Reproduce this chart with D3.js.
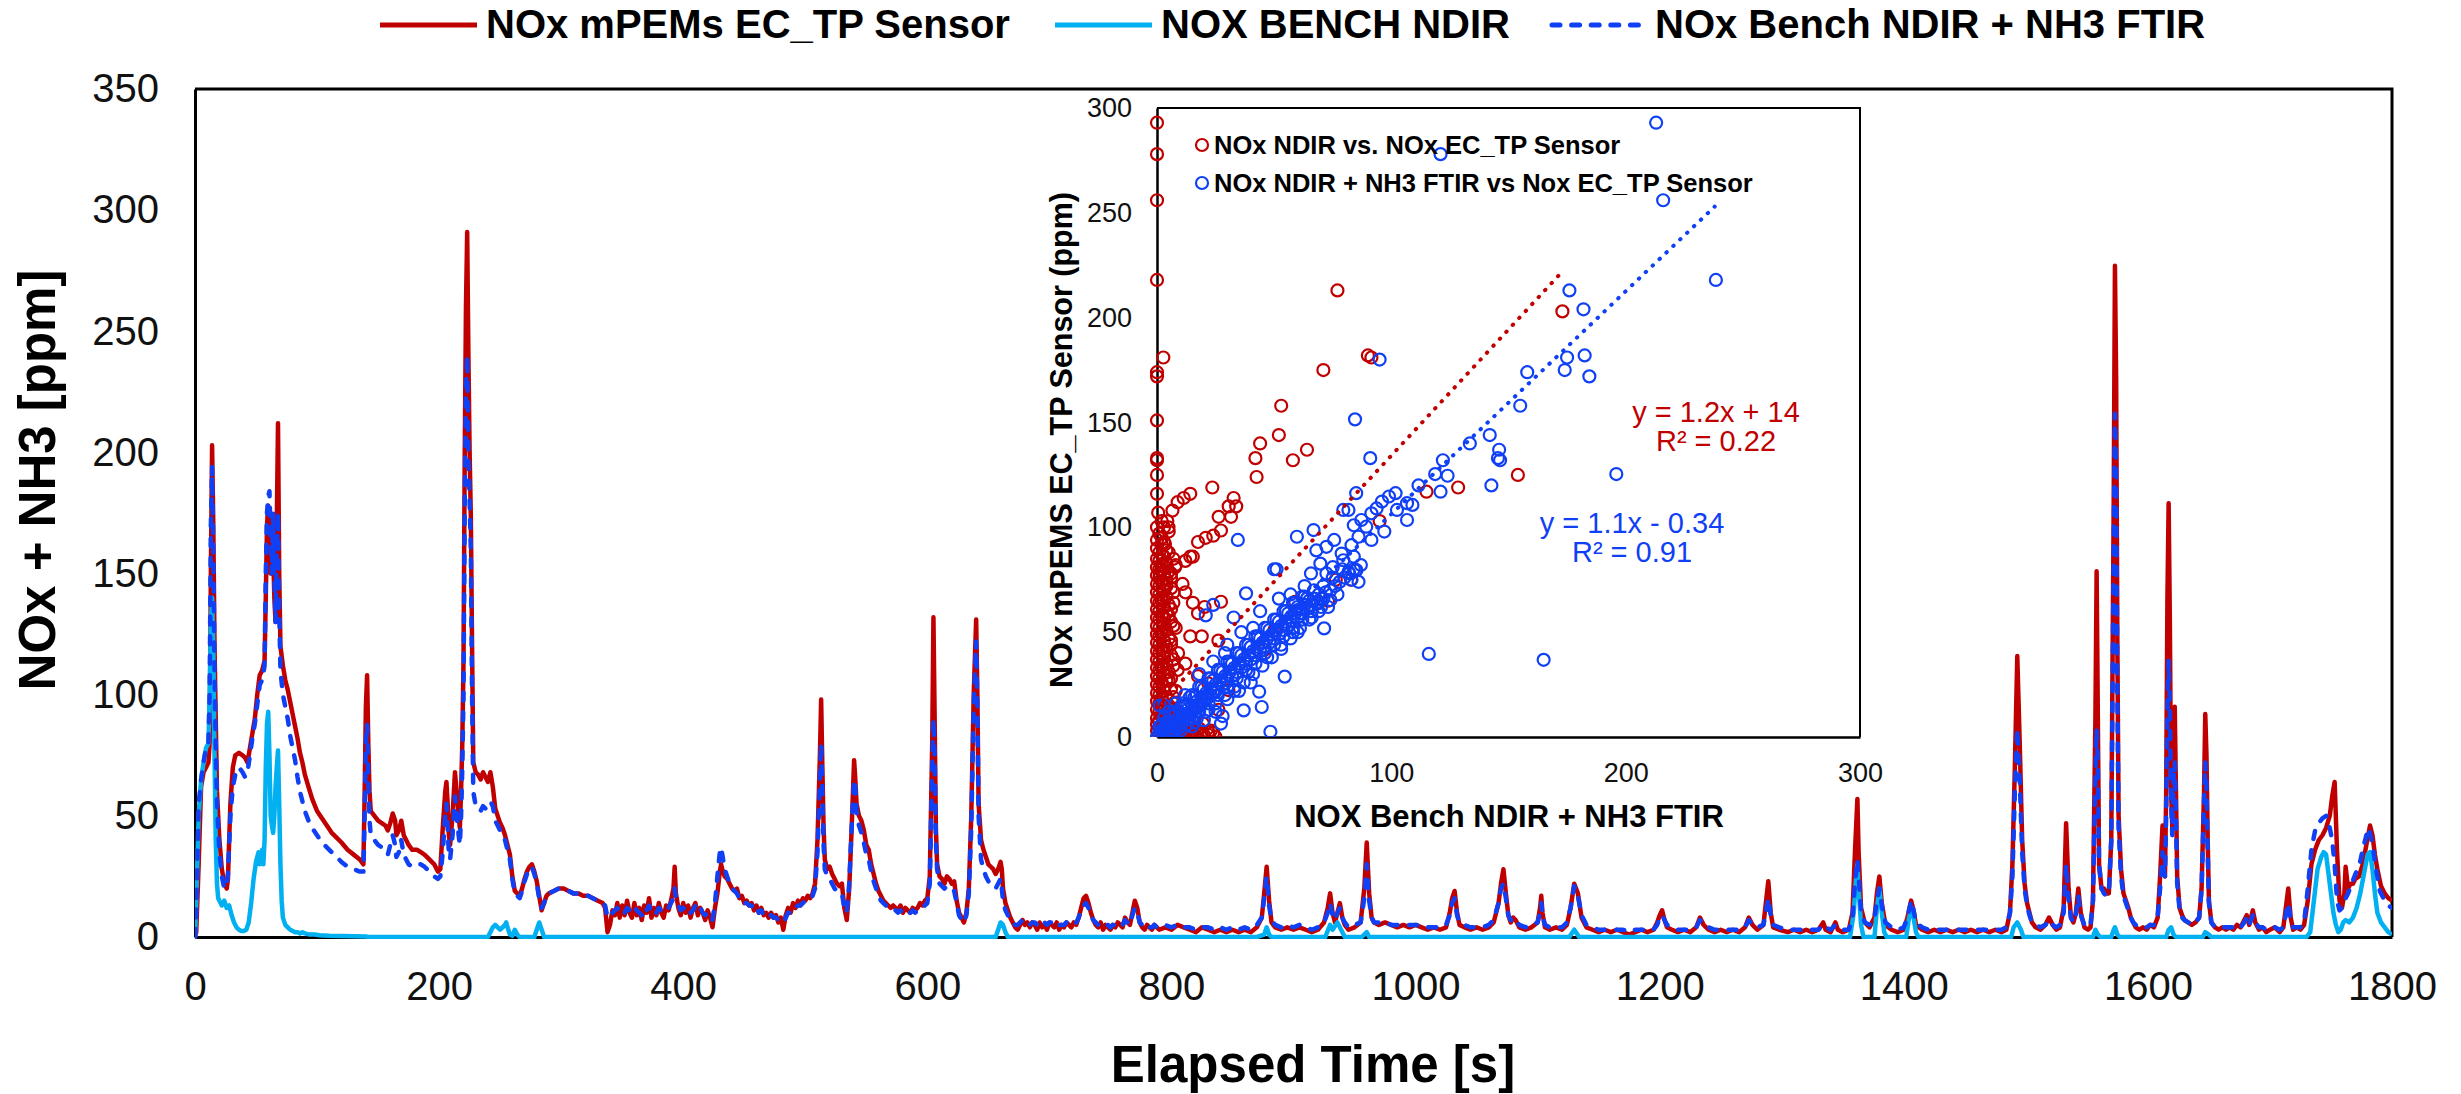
<!DOCTYPE html>
<html>
<head>
<meta charset="utf-8">
<script src="https://cdn.jsdelivr.net/npm/d3@7"></script>
<style>
  body { margin: 0; background: #fff; }
  svg { display: block; }
</style>
</head>
<body>
<div id="container"></div>
<script>
// ---------- data ----------
const timeTicks = [0, 200, 400, 600, 800, 1000, 1200, 1400, 1600, 1800];
const ppmTicks = [0, 50, 100, 150, 200, 250, 300, 350];
const insetTicks = [0, 50, 100, 150, 200, 250, 300];
const insetXTicks = [0, 100, 200, 300];

const seriesNames = ["NOx mPEMs EC_TP Sensor", "NOX BENCH NDIR", "NOx Bench NDIR + NH3 FTIR"];
const scatterNames = ["NOx NDIR vs. NOx EC_TP Sensor", "NOx NDIR + NH3 FTIR vs Nox EC_TP Sensor"];
const fitLabels = [["y = 1.2x + 14", "R\u00b2 = 0.22"], ["y = 1.1x - 0.34", "R\u00b2 = 0.91"]];

// [elapsed s, ppm]
const sensorNOx = [[0,0],[1,2],[3,30],[5,62],[7,68],[9,70],[11,72],[12,80],[13,150],[14,203],[15,170],[16,120],[17,90],[18,60],[20,40],[22,28],[24,22],[26,20],[27,24],[28,40],[29,55],[31,70],[33,75],[36,76],[39,75],[41,74],[43,72],[45,78],[47,84],[49,90],[51,100],[53,108],[55,110],[57,114],[58,140],[59,170],[60,178],[61,160],[62,150],[63,172],[64,160],[65,140],[66,130],[67,170],[68,212],[69,150],[70,120],[72,112],[74,106],[76,102],[78,97],[80,92],[82,87],[84,82],[86,76],[88,72],[90,67],[93,62],[96,57],[100,52],[104,49],[108,46],[112,43],[116,41],[120,39],[125,36],[130,34],[135,32],[138,30],[139,60],[140,95],[141,108],[142,80],[143,60],[144,52],[147,50],[150,48],[153,47],[156,46],[158,44],[160,47],[162,51],[164,48],[165,42],[167,44],[169,48],[171,42],[173,40],[175,38],[178,36],[182,36],[185,35],[188,34],[192,32],[196,30],[199,27],[201,28],[203,45],[205,60],[206,64],[207,55],[208,42],[209,38],[211,50],[213,68],[214,62],[216,50],[217,45],[218,60],[219,80],[220,114],[221,200],[222,260],[223,291],[224,240],[225,200],[226,173],[227,120],[228,72],[230,68],[232,67],[234,65],[236,68],[238,66],[240,64],[242,68],[244,62],[246,53],[248,50],[250,47],[252,45],[254,42],[256,38],[258,34],[260,25],[262,19],[264,18],[266,17],[268,20],[270,24],[272,27],[274,29],[276,30],[278,27],[280,23],[282,17],[284,11],[286,14],[288,17],[290,18],[294,19],[298,20],[302,20],[306,19],[310,18],[314,18],[318,17],[322,17],[326,16],[330,15],[334,14],[336,12],[338,2],[340,5],[342,11],[344,9],[346,14],[348,8],[350,13],[352,9],[354,15],[356,10],[358,8],[360,14],[362,9],[364,12],[366,7],[368,13],[370,10],[372,16],[374,8],[376,12],[378,9],[380,14],[382,10],[384,8],[386,13],[388,11],[390,15],[392,20],[393,29],[394,18],[396,12],[398,9],[400,14],[402,10],[404,13],[406,8],[408,12],[410,14],[412,9],[414,12],[416,10],[418,7],[420,11],[422,8],[424,4],[426,12],[428,18],[430,27],[431,30],[432,28],[434,25],[436,24],[438,22],[440,20],[442,19],[444,20],[446,16],[448,17],[450,14],[452,15],[454,13],[456,14],[458,11],[460,13],[462,10],[464,12],[466,9],[468,10],[470,8],[472,10],[474,8],[476,9],[478,6],[480,8],[482,3],[484,9],[486,12],[488,10],[490,14],[492,12],[494,15],[496,13],[498,16],[500,15],[502,17],[504,16],[506,18],[508,22],[510,40],[512,75],[513,98],[514,70],[515,45],[516,32],[518,28],[520,29],[522,26],[524,24],[526,22],[528,21],[530,22],[532,12],[534,7],[536,20],[538,45],[540,73],[541,65],[542,55],[544,50],[546,48],[548,44],[550,38],[552,36],[554,30],[556,26],[558,22],[560,19],[562,17],[564,15],[566,14],[568,13],[570,12],[572,13],[574,12],[576,11],[578,13],[580,10],[582,12],[584,11],[586,10],[588,12],[590,11],[592,12],[594,14],[596,13],[598,15],[600,16],[602,25],[604,80],[605,132],[606,90],[607,45],[608,30],[610,25],[612,24],[614,22],[616,25],[618,24],[620,22],[622,23],[624,15],[626,10],[628,8],[630,6],[632,10],[634,20],[636,50],[638,100],[640,131],[641,100],[642,55],[644,40],[646,36],[648,33],[650,30],[652,29],[654,28],[656,26],[658,28],[660,31],[661,28],[662,20],[664,14],[666,11],[668,8],[670,6],[672,4],[674,3],[676,5],[678,7],[680,5],[682,6],[684,4],[686,6],[688,5],[690,3],[692,6],[694,4],[696,5],[698,3],[700,6],[702,5],[704,4],[706,6],[708,3],[710,5],[712,4],[714,6],[716,5],[718,4],[720,6],[722,5],[724,8],[726,12],[728,16],[730,17],[732,14],[734,10],[736,7],[738,5],[740,4],[742,6],[744,3],[746,5],[748,4],[750,3],[752,5],[754,4],[756,6],[758,5],[760,4],[762,8],[764,6],[766,5],[768,10],[770,15],[772,12],[774,6],[776,4],[778,3],[780,5],[782,4],[784,3],[786,5],[788,4],[790,3],[795,4],[800,3],[805,5],[810,4],[815,3],[820,2],[825,4],[830,3],[835,2],[840,3],[845,2],[850,3],[855,2],[860,3],[865,2],[870,4],[874,8],[876,18],[878,29],[880,15],[882,6],[885,4],[890,3],[895,4],[900,3],[905,4],[910,3],[915,2],[920,3],[925,6],[928,12],[930,18],[932,10],[934,6],[936,10],[938,14],[940,8],[942,5],[945,3],[950,4],[955,6],[958,20],[960,39],[962,18],[964,8],[966,6],[970,5],[975,6],[980,5],[985,4],[990,5],[995,4],[1000,5],[1005,4],[1010,3],[1015,4],[1020,3],[1025,4],[1028,10],[1030,16],[1032,19],[1034,10],[1036,5],[1040,4],[1045,3],[1050,4],[1055,3],[1060,4],[1064,6],[1068,14],[1070,22],[1072,28],[1074,18],[1076,9],[1078,6],[1080,8],[1082,7],[1085,4],[1090,3],[1095,4],[1100,6],[1102,12],[1103,17],[1104,10],[1106,4],[1110,3],[1115,4],[1120,3],[1124,5],[1127,12],[1130,22],[1133,18],[1136,8],[1140,4],[1145,3],[1150,2],[1155,3],[1160,2],[1165,3],[1170,2],[1175,1],[1180,2],[1185,3],[1190,2],[1195,3],[1198,6],[1200,9],[1202,11],[1204,7],[1206,4],[1210,3],[1215,2],[1220,3],[1225,2],[1230,4],[1233,8],[1236,5],[1240,3],[1245,2],[1250,3],[1255,2],[1260,3],[1265,2],[1270,4],[1273,8],[1276,5],[1280,3],[1285,5],[1287,14],[1289,23],[1291,10],[1293,4],[1298,3],[1305,2],[1310,3],[1315,2],[1320,3],[1325,2],[1330,3],[1334,6],[1336,3],[1340,2],[1344,6],[1346,3],[1350,2],[1355,3],[1358,10],[1360,35],[1362,57],[1363,35],[1365,12],[1368,6],[1372,4],[1376,8],[1378,18],[1380,25],[1382,14],[1385,5],[1390,3],[1395,2],[1400,3],[1403,8],[1406,15],[1408,11],[1410,5],[1415,3],[1420,2],[1425,3],[1430,2],[1435,3],[1440,2],[1445,3],[1450,2],[1455,3],[1460,2],[1465,3],[1470,2],[1475,3],[1480,2],[1484,3],[1487,10],[1489,30],[1491,70],[1493,116],[1495,80],[1497,40],[1499,22],[1501,14],[1503,10],[1505,6],[1508,4],[1512,3],[1516,5],[1519,8],[1522,5],[1525,3],[1528,4],[1531,12],[1533,47],[1535,20],[1537,8],[1539,6],[1541,10],[1543,20],[1545,10],[1548,4],[1551,3],[1553,4],[1555,15],[1557,90],[1558,151],[1559,90],[1560,30],[1562,20],[1564,20],[1566,18],[1568,18],[1570,40],[1572,180],[1573,277],[1574,230],[1575,120],[1576,50],[1578,28],[1580,18],[1582,15],[1584,12],[1586,8],[1588,6],[1590,4],[1593,3],[1596,4],[1599,3],[1602,5],[1605,4],[1608,8],[1610,25],[1612,46],[1613,30],[1614,25],[1615,60],[1616,140],[1617,179],[1618,130],[1619,60],[1620,45],[1621,80],[1622,95],[1623,60],[1624,25],[1626,12],[1628,9],[1630,7],[1633,6],[1636,5],[1639,6],[1642,8],[1644,20],[1646,60],[1647,92],[1648,75],[1649,40],[1650,15],[1652,6],[1655,4],[1658,3],[1661,4],[1664,3],[1667,4],[1670,3],[1673,5],[1676,4],[1679,7],[1681,9],[1683,5],[1686,11],[1688,6],[1691,3],[1694,4],[1697,2],[1700,3],[1704,4],[1708,2],[1711,4],[1713,12],[1715,20],[1717,8],[1719,3],[1722,4],[1725,3],[1728,5],[1731,15],[1734,30],[1737,36],[1740,40],[1743,42],[1746,45],[1749,50],[1751,58],[1753,64],[1755,35],[1757,15],[1759,12],[1761,18],[1762,29],[1764,20],[1766,22],[1768,22],[1770,24],[1773,25],[1776,30],[1779,38],[1782,46],[1784,42],[1786,34],[1788,28],[1791,21],[1794,18],[1797,16],[1800,15]];

const benchNDIR = [[0,0],[1,15],[3,50],[5,65],[7,72],[9,78],[11,80],[12,100],[13,130],[14,140],[15,120],[16,75],[17,40],[18,22],[19,16],[20,15],[22,13],[24,15],[26,12],[28,13],[30,9],[32,6],[34,4],[36,3],[38,2.5],[40,2.5],[42,3],[44,6],[46,14],[48,24],[50,31],[52,35],[53,30],[54,33],[55,36],[56,30],[57,40],[58,70],[59,88],[60,93],[61,75],[62,50],[63,46],[64,43],[65,50],[66,62],[67,70],[68,77],[69,55],[70,30],[71,15],[72,8],[74,5],[76,4],[78,3],[80,2.5],[82,2],[84,2],[86,1.5],[88,2],[90,1.5],[94,1],[98,1],[102,0.7],[110,0.5],[120,0.4],[130,0.3],[140,0.2],[142,0],[240,0],[242,2],[244,4],[246,5],[248,4],[250,3],[252,4],[254,5],[255,6],[256,4],[258,1],[260,0.5],[262,3],[264,1],[266,0],[278,0],[280,3],[282,6],[284,3],[286,0],[656,0],[658,3],[660,6],[662,5],[664,2],[666,0],[870,0],[876,1],[878,4],[880,1],[882,0],[926,0],[930,5],[932,3],[936,6],[938,4],[942,0],[956,0],[960,2],[962,0],[1126,0],[1130,3],[1134,0],[1356,0],[1359,10],[1361,25],[1362,30],[1363,20],[1365,5],[1367,0],[1376,0],[1378,12],[1380,20],[1382,10],[1384,2],[1386,0],[1402,0],[1404,7],[1406,12],[1408,8],[1410,2],[1412,0],[1488,0],[1490,4],[1493,6],[1496,3],[1498,0],[1555,0],[1557,3],[1559,1],[1561,0],[1570,0],[1572,3],[1573,4],[1575,1],[1577,0],[1615,0],[1617,3],[1619,4],[1621,1],[1623,0],[1645,0],[1647,2],[1650,1],[1652,0],[1730,0],[1733,2],[1736,15],[1739,28],[1742,33],[1744,35],[1746,34],[1748,26],[1750,18],[1752,10],[1754,5],[1756,2],[1758,3],[1760,6],[1762,7],[1765,6],[1768,8],[1771,12],[1774,18],[1777,26],[1780,34],[1782,35],[1784,28],[1786,18],[1788,10],[1791,6],[1794,4],[1797,2],[1800,1]];

const benchNDIRplusNH3 = [[0,0],[1,10],[3,55],[5,65],[7,72],[9,78],[11,80],[12,100],[13,170],[14,194],[15,160],[16,110],[17,80],[18,55],[20,35],[22,25],[24,20],[26,22],[27,26],[28,38],[29,50],[31,62],[33,67],[36,70],[39,68],[41,66],[43,68],[45,75],[47,82],[49,88],[51,96],[53,104],[55,106],[57,112],[58,150],[59,175],[60,182],[61,184],[62,165],[63,150],[64,175],[65,150],[66,130],[67,160],[68,175],[69,135],[70,110],[72,100],[74,95],[76,90],[78,83],[80,78],[82,73],[84,66],[86,60],[88,56],[90,52],[93,48],[96,45],[100,42],[104,39],[108,37],[112,35],[116,33],[120,31],[125,29],[130,28],[135,27],[138,27],[139,50],[140,80],[141,88],[142,65],[143,48],[144,42],[147,40],[150,38],[153,37],[156,36],[158,34],[160,38],[162,42],[164,38],[165,33],[167,35],[169,40],[171,34],[173,32],[175,30],[178,29],[182,30],[185,30],[188,29],[192,27],[196,25],[199,24],[201,25],[203,35],[205,50],[206,55],[207,45],[208,34],[209,32],[211,42],[213,58],[214,52],[216,42],[217,38],[218,50],[219,70],[220,100],[221,180],[222,225],[223,240],[224,200],[225,180],[226,160],[227,100],[228,60],[230,54],[232,53],[234,52],[236,54],[238,53],[240,55],[242,56],[244,54],[246,48],[248,46],[250,44],[252,42],[254,40],[256,36],[258,32],[260,24],[262,18],[264,17],[266,16],[268,19],[270,23],[272,26],[274,28],[276,29],[278,26],[280,22],[282,16],[284,12],[286,14],[288,17],[290,18],[294,19],[298,20],[302,20],[306,19],[310,18],[314,18],[318,17],[322,17],[326,16],[330,15],[334,14],[336,13],[338,8],[340,9],[342,10],[344,11],[346,12],[348,10],[350,11],[352,10],[354,12],[356,11],[358,10],[360,12],[362,11],[364,10],[366,9],[368,12],[370,11],[372,13],[374,10],[376,11],[378,10],[380,12],[382,11],[384,10],[386,11],[388,12],[390,14],[392,16],[393,20],[394,16],[396,13],[398,11],[400,12],[402,11],[404,12],[406,10],[408,11],[410,13],[412,11],[414,12],[416,10],[418,9],[420,10],[422,9],[424,7],[426,14],[428,25],[430,35],[431,37],[432,34],[434,28],[436,25],[438,22],[440,20],[442,19],[444,18],[446,16],[448,16],[450,14],[452,14],[454,13],[456,13],[458,11],[460,12],[462,10],[464,11],[466,9],[468,9],[470,8],[472,9],[474,8],[476,8],[478,7],[480,7],[482,6],[484,8],[486,10],[488,10],[490,12],[492,12],[494,13],[496,13],[498,14],[500,15],[502,16],[504,16],[506,17],[508,20],[510,35],[512,65],[513,80],[514,60],[515,38],[516,28],[518,25],[520,24],[522,22],[524,20],[526,19],[528,18],[530,18],[532,12],[534,10],[536,22],[538,45],[540,65],[541,62],[542,52],[544,46],[546,43],[548,39],[550,34],[552,32],[554,27],[556,23],[558,20],[560,17],[562,15],[564,14],[566,13],[568,12],[570,11],[572,11],[574,11],[576,10],[578,11],[580,10],[582,11],[584,10],[586,10],[588,11],[590,10],[592,11],[594,12],[596,12],[598,13],[600,14],[602,22],[604,70],[605,90],[606,75],[607,40],[608,28],[610,22],[612,21],[614,20],[616,21],[618,20],[620,19],[622,19],[624,14],[626,9],[628,7],[630,6],[632,9],[634,18],[636,45],[638,95],[640,122],[641,95],[642,50],[644,32],[646,28],[648,25],[650,23],[652,22],[654,21],[656,20],[658,22],[660,24],[661,20],[662,15],[664,11],[666,9],[668,7],[670,6],[672,5],[674,5],[676,6],[678,7],[680,6],[682,6],[684,5],[686,6],[688,6],[690,5],[692,6],[694,5],[696,6],[698,5],[700,6],[702,6],[704,5],[706,6],[708,5],[710,5],[712,5],[714,6],[716,5],[718,5],[720,6],[722,6],[724,8],[726,11],[728,13],[730,14],[732,12],[734,9],[736,7],[738,6],[740,5],[742,6],[744,5],[746,5],[748,5],[750,4],[752,5],[754,5],[756,6],[758,5],[760,5],[762,7],[764,6],[766,5],[768,9],[770,12],[772,10],[774,6],[776,5],[778,4],[780,5],[782,4],[784,4],[786,5],[788,4],[790,4],[795,5],[800,4],[805,5],[810,4],[815,4],[820,3],[825,4],[830,4],[835,3],[840,4],[845,3],[850,4],[855,3],[860,4],[865,3],[870,5],[874,8],[876,16],[878,25],[880,13],[882,7],[885,5],[890,4],[895,5],[900,4],[905,5],[910,4],[915,3],[920,4],[925,6],[928,10],[930,14],[932,9],[934,7],[936,10],[938,12],[940,8],[942,6],[945,4],[950,5],[955,6],[958,16],[960,30],[962,15],[964,8],[966,6],[970,6],[975,6],[980,5],[985,5],[990,5],[995,5],[1000,5],[1005,5],[1010,4],[1015,4],[1020,4],[1025,5],[1028,9],[1030,14],[1032,16],[1034,9],[1036,6],[1040,5],[1045,4],[1050,4],[1055,4],[1060,5],[1064,7],[1068,14],[1070,20],[1072,22],[1074,16],[1076,9],[1078,7],[1080,8],[1082,7],[1085,5],[1090,4],[1095,5],[1100,6],[1102,10],[1103,14],[1104,9],[1106,5],[1110,4],[1115,4],[1120,4],[1124,6],[1127,12],[1130,21],[1133,17],[1136,9],[1140,5],[1145,4],[1150,3],[1155,3],[1160,3],[1165,3],[1170,3],[1175,2],[1180,3],[1185,3],[1190,3],[1195,3],[1198,5],[1200,8],[1202,9],[1204,7],[1206,5],[1210,4],[1215,3],[1220,3],[1225,3],[1230,4],[1233,7],[1236,5],[1240,4],[1245,3],[1250,3],[1255,3],[1260,3],[1265,3],[1270,4],[1273,7],[1276,5],[1280,4],[1285,5],[1287,10],[1289,16],[1291,9],[1293,5],[1298,4],[1305,3],[1310,3],[1315,3],[1320,3],[1325,3],[1330,3],[1334,5],[1336,4],[1340,3],[1344,5],[1346,4],[1350,3],[1355,3],[1358,8],[1360,22],[1362,32],[1363,25],[1365,11],[1368,6],[1372,5],[1376,8],[1378,15],[1380,20],[1382,13],[1385,6],[1390,4],[1395,3],[1400,4],[1403,8],[1406,15],[1408,11],[1410,6],[1415,4],[1420,3],[1425,3],[1430,3],[1435,3],[1440,3],[1445,3],[1450,3],[1455,3],[1460,3],[1465,3],[1470,3],[1475,3],[1480,3],[1484,4],[1487,10],[1489,25],[1491,60],[1493,86],[1495,65],[1497,35],[1499,20],[1501,13],[1503,9],[1505,6],[1508,5],[1512,4],[1516,5],[1519,7],[1522,5],[1525,4],[1528,5],[1531,10],[1533,30],[1535,15],[1537,8],[1539,6],[1541,9],[1543,17],[1545,9],[1548,5],[1551,4],[1553,5],[1555,15],[1557,65],[1558,86],[1559,70],[1560,30],[1562,20],[1564,18],[1566,17],[1568,18],[1570,40],[1572,160],[1573,216],[1574,190],[1575,100],[1576,45],[1578,25],[1580,17],[1582,14],[1584,11],[1586,8],[1588,6],[1590,5],[1593,4],[1596,4],[1599,4],[1602,5],[1605,5],[1608,8],[1610,20],[1612,35],[1613,28],[1614,25],[1615,50],[1616,95],[1617,114],[1618,95],[1619,55],[1620,42],[1621,65],[1622,72],[1623,50],[1624,22],[1626,11],[1628,8],[1630,7],[1633,6],[1636,5],[1639,6],[1642,8],[1644,20],[1646,55],[1647,72],[1648,62],[1649,35],[1650,14],[1652,6],[1655,4],[1658,4],[1661,4],[1664,4],[1667,4],[1670,4],[1673,5],[1676,4],[1679,6],[1681,8],[1683,5],[1686,9],[1688,6],[1691,4],[1694,4],[1697,3],[1700,3],[1704,4],[1708,3],[1711,4],[1713,9],[1715,14],[1717,7],[1719,4],[1722,4],[1725,4],[1728,6],[1731,20],[1734,36],[1737,44],[1740,47],[1743,49],[1746,50],[1749,45],[1751,40],[1753,30],[1755,15],[1757,11],[1759,12],[1761,15],[1764,18],[1767,22],[1770,26],[1773,29],[1776,36],[1779,42],[1781,45],[1784,38],[1787,28],[1790,19],[1794,15],[1797,13],[1800,12]];

// inset scatter: [bench ppm, sensor ppm]
const scatterNDIR = [[0,293],[0,278],[0,256],[0,218],[2.7,181],[0,174],[0,172],[0,151],[0,133],[0,132],[0,125],[0,116],[0.5,107],[77,213],[71,175],[53,158],[52,144],[44,140],[42,133],[42.5,124],[58,132],[64,137],[90,182],[91.5,181],[173,203],[154,125],[128.5,119],[115,117],[95,103],[23.6,119],[14.2,116],[11.4,114],[8.8,112],[6.6,108],[4.4,103],[32.7,114],[33.8,110],[30.6,110],[26.3,105],[31.6,105],[27.3,98.5],[24,96],[20.8,95],[17.5,93],[15.3,86],[12.1,84],[7.7,81],[4.9,100],[3.4,92],[2.2,87],[1.2,78],
  [14.2,86],[10.9,73],[12.1,69],[15.3,64],[17.5,59],[27.3,64.5],[20.3,62],[19.1,48],[14.2,48],[26.2,46],[12.1,35],[8.8,32],[17.5,29],[21.9,25.6],[26.2,13],[19.6,6.5],[21.9,2.5],[16.4,9.7],[58.9,64.5],[73,65],[82.8,75],[76.3,75],[45.8,41.5],[30.5,22.4],[50.1,51],
  [0,0],[1,1],[2,0],[3,2],[0,3],[1,4],[4,1],[5,3],[2,5],[0,6],[3,7],[1,8],[6,2],[0,9],[2,10],[4,11],[1,12],[0,13],[3,14],[5,15],[1,16],[0,17],[2,18],[4,19],[1,20],[0,21],[3,22],[6,23],[1,24],[0,25],[2,26],[4,27],[1,28],[0,29],[3,30],[5,31],[1,32],[0,33],[2,34],[4,35],[1,36],[0,37],[3,38],[6,39],[1,40],[0,41],[2,42],[4,43],[1,44],[0,45],[3,46],[5,47],[1,48],[0,49],[2,50],[4,51],[1,52],[0,53],[3,54],[6,55],[1,56],[0,57],[2,58],[4,59],[1,60],[0,61],[3,62],[5,63],[1,64],[0,65],[2,66],[4,67],[1,68],[0,69],[3,70],[6,71],[1,72],[0,73],[2,74],[4,75],[1,76],[0,77],[3,78],[5,79],[1,80],[0,81],[2,82],[4,83],[1,84],[0,85],[3,86],[1,88],[0,90],[2,92],[0,94],[1,97],[0,100],[2,103],
  [7,1],[9,0],[11,2],[13,1],[15,3],[17,0],[19,2],[22,1],[24,2],[8,5],[10,8],[12,4],[14,6],[6,9],[9,12],[7,16],[8,22],[5,27],[7,34],[9,40],[6,46],[8,52],[5,58],[7,64],[4,72],[6,78],[8,82],[5,88],[3,93],
  [2,2],[5,0],[8,3],[10,1],[12,0],[14,2],[16,1],[18,4],[20,1],[23,3],[25,0],[3,11],[6,13],[2,15],[7,19],[3,24],[6,28],[2,33],[7,37],[3,41],[6,44],[2,49],[7,53],[3,57],[6,61],[2,65],[7,69],[3,73],[6,76],[2,80],[7,85],[4,89],[2,95],[5,98],[3,100]];

const scatterNDIRNH3 = [[213,293],[121,278],[216,256],[238.5,218],[176,213],[182,204],[175,181],[182.5,182],[174,175],[184.5,172],[158,174],[155,158],[95,180],[84.5,151.5],[142,144],[133.5,140],[146,137],[145.5,133],[146.4,132],[122,132],[91,133],[118.7,125.4],[124,124.6],[142.7,120],[121,117],[196,125.4],[111.6,120],[85,116.3],[101.8,116.3],[99,114.7],[96,112.3],[93.7,109],[106.7,111.5],[109,110.7],[102.4,108.3],[106.7,103.5],[91.5,106.7],[87.2,103.5],[79.5,108.3],[81.7,108.3],[84,101],[89.3,100.3],[97,98],[86,95.5],[91.5,94],[83,91.5],[78.8,87.5],[75.6,94],[72.3,90.7],[68,89],[66.8,98.7],[59.7,95.5],[34.5,94],[51,80],[69.7,82.7],[75,81],[79.5,84.3],[85,79.5],[81.7,78.7],[72.3,78],[65.7,78],
  [116,39.6],[165,36.8],[48.4,2.5],[71.3,51.8],[54.5,28.8],[43.6,21.6],[44.7,14.3],[37,12.7],[27.3,6.4],[84,86],[85,79.6],[86,74],[74,65.3],[68.7,63.7],[61,59],[58,50],[50,80],[38,68.5],[32.7,57],[24,63],[20.8,58],[1.2,15],
  [0,0],[1,2],[2,1],[3,4],[4,2],[5,5],[6,3],[2,6],[7,7],[8,5],[9,9],[10,7],[11,11],[12,9],[6,10],[13,13],[14,11],[15,15],[16,13],[10,14],[17,17],[18,15],[19,19],[20,17],[14,19],[21,21],[22,19],[23,23],[24,21],[18,24],[25,25],[26,23],[27,27],[28,25],[22,28],[29,29],[30,27],[31,31],[32,29],[26,32],[33,33],[34,31],[35,35],[36,33],[30,36],[37,37],[38,35],[39,39],[40,37],[34,40],[41,41],[42,39],[43,43],[44,41],[38,44],[45,45],[46,43],[47,47],[48,45],[42,48],[49,49],[50,47],[51,51],[52,49],[46,52],[53,53],[54,51],[55,55],[56,53],[50,56],[57,57],[58,55],[59,59],[60,57],[54,60],[61,61],[62,59],[63,63],[64,61],[58,64],[65,65],[66,63],[67,66],[68,64],[62,67],[69,68],[70,66],[72,69],[74,70],[71,72],[76,72],[78,74],[80,76],[82,78],[84,80],
  [15,5],[20,8],[25,12],[30,18],[35,22],[40,26],[28,10],[12,20],[8,16],[18,30],[24,36],[30,44],[36,50],[44,60],[52,66],[5,12],[3,15],[10,3],[16,7],[22,13],[33,24],[39,31],[47,38],[53,44],[60,50],[66,57],[73,62],[29,40],[41,52],[57,68],[63,72],
  [3,9],[5,1],[7,12],[9,4],[11,16],[13,6],[15,20],[17,9],[19,24],[21,12],[23,28],[25,16],[27,32],[29,20],[31,36],[33,22],[35,40],[37,26],[39,44],[41,30],[43,48],[45,34],[47,52],[49,38],[51,56],[53,42],[55,60],[57,47],[59,64],[61,52],[63,67],[65,56],[67,70],[69,60],[71,66],[75,76],[77,68],[79,80],[83,75],[87,82],
  [4,7],[8,11],[12,15],[16,19],[20,23],[24,27],[28,31],[32,35],[36,39],[40,43],[44,47],[48,51],[52,55],[56,59],[60,62],[64,66],
  [6,1],[10,5],[14,9],[18,12],[22,16],[26,20],[30,24],[34,28],[38,32],[42,35],[46,40],[50,44],[54,48],[58,52],[62,56],[66,60],[70,62],
  [2,3],[1,5],[3,0],[5,7],[7,3],[9,6],[11,8],[13,10],[15,12],[17,14],[19,16],[21,18],[23,20],[25,22]];

// trend lines: [bench ppm, sensor ppm] end points
const fitNDIR = [[0, 14], [173, 222]];
const fitNDIRNH3 = [[0, -0.34], [238, 253]];

// ---------- drawing ----------
const W = 2461, H = 1094;
const FONT = "'Liberation Sans', Arial, Helvetica, sans-serif";
const RED = "#c00000", CYAN = "#00b0f0", BLUE = "#1040f5";

let svg = d3.select("#container")
  .append("svg")
    .attr("width", W)
    .attr("height", H)
    .style("background-color", "#fff")
    .attr("font-family", FONT);

// main plot
let x = d3.scaleLinear().domain([0, 1800]).range([195, 2392]);
let y = d3.scaleLinear().domain([0, 350]).range([937, 89]);

svg.append("defs").append("clipPath").attr("id", "plotClip")
  .append("rect")
    .attr("x", x(0)).attr("y", y(350) - 2)
    .attr("width", x(1800) - x(0)).attr("height", y(0) - y(350) + 4);

// top & right frame
svg.append("path")
  .attr("d", `M${x(0)},${y(350)}H${x(1800)}V${y(0)}`)
  .attr("fill", "none").attr("stroke", "#000").attr("stroke-width", 3);

let xAxisGroup = svg.append("g")
  .attr("transform", `translate(0,${y(0)})`)
  .call(d3.axisBottom(x).tickValues(timeTicks).tickFormat(d3.format("d"))
    .tickSize(0).tickSizeOuter(0).tickPadding(35));
let yAxisGroup = svg.append("g")
  .attr("transform", `translate(${x(0)},0)`)
  .call(d3.axisLeft(y).tickValues(ppmTicks).tickFormat(d3.format("d"))
    .tickSize(0).tickSizeOuter(0).tickPadding(36));

[xAxisGroup, yAxisGroup].forEach(g => {
  g.attr("font-family", FONT).attr("font-size", 40);
  g.select(".domain").attr("stroke", "#000").attr("stroke-width", 3);
  g.selectAll("text").attr("fill", "#111");
});

let line = d3.line().x(d => x(d[0])).y(d => y(d[1]));
let plot = svg.append("g").attr("clip-path", "url(#plotClip)");

plot.append("path").datum(sensorNOx)
  .attr("d", line).attr("fill", "none").attr("stroke", RED)
  .attr("stroke-width", 4.5).attr("stroke-linejoin", "round");
plot.append("path").datum(benchNDIR)
  .attr("d", line).attr("fill", "none").attr("stroke", CYAN)
  .attr("stroke-width", 4.5).attr("stroke-linejoin", "round");
plot.append("path").datum(benchNDIRplusNH3)
  .attr("d", line).attr("fill", "none").attr("stroke", BLUE)
  .attr("stroke-width", 4.5).attr("stroke-linejoin", "round")
  .attr("stroke-linecap", "round").attr("stroke-dasharray", "8 11.6");

// axis titles
svg.append("text")
  .attr("transform", "translate(55,480) rotate(-90)")
  .attr("text-anchor", "middle").attr("font-weight", "bold").attr("font-size", 51)
  .text("NOx + NH3 [ppm]");
svg.append("text")
  .attr("x", 1313).attr("y", 1082)
  .attr("text-anchor", "middle").attr("font-weight", "bold").attr("font-size", 51)
  .text("Elapsed Time [s]");

// legend
let legendItems = [
  { name: seriesNames[0], color: RED, dash: null, x0: 380, tx: 486 },
  { name: seriesNames[1], color: CYAN, dash: null, x0: 1055, tx: 1161 },
  { name: seriesNames[2], color: BLUE, dash: "8 11.6", x0: 1552, tx: 1655 }
];
let legend = svg.append("g");
legendItems.forEach(it => {
  legend.append("line")
    .attr("x1", it.x0).attr("x2", it.x0 + 97).attr("y1", 25).attr("y2", 25)
    .attr("stroke", it.color).attr("stroke-width", 5)
    .attr("stroke-linecap", it.dash ? "round" : "butt")
    .attr("stroke-dasharray", it.dash);
  legend.append("text")
    .attr("x", it.tx).attr("y", 38)
    .attr("font-size", 40).attr("font-weight", "bold").attr("fill", "#000")
    .text(it.name);
});

// ---------- inset scatter ----------
let ix = d3.scaleLinear().domain([0, 300]).range([1157, 1860]);
let iy = d3.scaleLinear().domain([0, 300]).range([737, 108]);

svg.select("defs").append("clipPath").attr("id", "insetClip")
  .append("rect")
    .attr("x", ix(0) - 8).attr("y", iy(300) - 8)
    .attr("width", ix(300) - ix(0) + 8).attr("height", iy(0) - iy(300) + 8);

let inset = svg.append("g");

inset.append("path")
  .attr("d", `M${ix(0)},${iy(300)}H${ix(300)}V${iy(0)}`)
  .attr("fill", "none").attr("stroke", "#000").attr("stroke-width", 2);

let ixAxis = inset.append("g")
  .attr("transform", `translate(0,${iy(0)})`)
  .call(d3.axisBottom(ix).tickValues(insetXTicks).tickSize(0).tickSizeOuter(0).tickPadding(26));
let iyAxis = inset.append("g")
  .attr("transform", `translate(${ix(0)},0)`)
  .call(d3.axisLeft(iy).tickValues(insetTicks).tickSize(0).tickSizeOuter(0).tickPadding(25));
[ixAxis, iyAxis].forEach(g => {
  g.attr("font-family", FONT).attr("font-size", 27);
  g.select(".domain").attr("stroke", "#000").attr("stroke-width", 2.5);
  g.selectAll("text").attr("fill", "#111");
});

let pts = inset.append("g").attr("clip-path", "url(#insetClip)");
pts.selectAll(".ptRed").data(scatterNDIR).enter()
  .append("circle").attr("class", "ptRed")
    .attr("cx", d => ix(d[0])).attr("cy", d => iy(d[1])).attr("r", 6)
    .attr("fill", "none").attr("stroke", RED).attr("stroke-width", 2.2);
pts.selectAll(".ptBlue").data(scatterNDIRNH3).enter()
  .append("circle").attr("class", "ptBlue")
    .attr("cx", d => ix(d[0])).attr("cy", d => iy(d[1])).attr("r", 6)
    .attr("fill", "none").attr("stroke", BLUE).attr("stroke-width", 2.2);

let iline = d3.line().x(d => ix(d[0])).y(d => iy(Math.max(0, d[1])));
pts.append("path").datum(fitNDIR)
  .attr("d", iline).attr("fill", "none").attr("stroke", RED)
  .attr("stroke-width", 4).attr("stroke-linecap", "round").attr("stroke-dasharray", "0.5 9");
pts.append("path").datum(fitNDIRNH3)
  .attr("d", iline).attr("fill", "none").attr("stroke", BLUE)
  .attr("stroke-width", 4).attr("stroke-linecap", "round").attr("stroke-dasharray", "0.5 9");

// inset legend
[[scatterNames[0], RED, 145], [scatterNames[1], BLUE, 183]].forEach(([name, c, yy]) => {
  inset.append("circle").attr("cx", 1202).attr("cy", yy).attr("r", 6)
    .attr("fill", "none").attr("stroke", c).attr("stroke-width", 2.2);
  inset.append("text").attr("x", 1214).attr("y", yy + 9)
    .attr("font-size", 25.5).attr("font-weight", "bold").attr("fill", "#000")
    .text(name);
});

// fit equations
[[fitLabels[0], RED, 1716, 422], [fitLabels[1], BLUE, 1632, 533]].forEach(([lbl, c, cx, by]) => {
  inset.append("text").attr("x", cx).attr("y", by)
    .attr("text-anchor", "middle").attr("font-size", 29).attr("fill", c).text(lbl[0]);
  inset.append("text").attr("x", cx).attr("y", by + 29)
    .attr("text-anchor", "middle").attr("font-size", 29).attr("fill", c).text(lbl[1]);
});

// inset axis titles
inset.append("text")
  .attr("x", 1509).attr("y", 827)
  .attr("text-anchor", "middle").attr("font-weight", "bold").attr("font-size", 31)
  .text("NOX Bench NDIR + NH3 FTIR");
inset.append("text")
  .attr("transform", "translate(1072,440) rotate(-90)")
  .attr("text-anchor", "middle").attr("font-weight", "bold").attr("font-size", 30.5)
  .text("NOx mPEMS EC_TP Sensor (ppm)");
</script>
</body>
</html>
